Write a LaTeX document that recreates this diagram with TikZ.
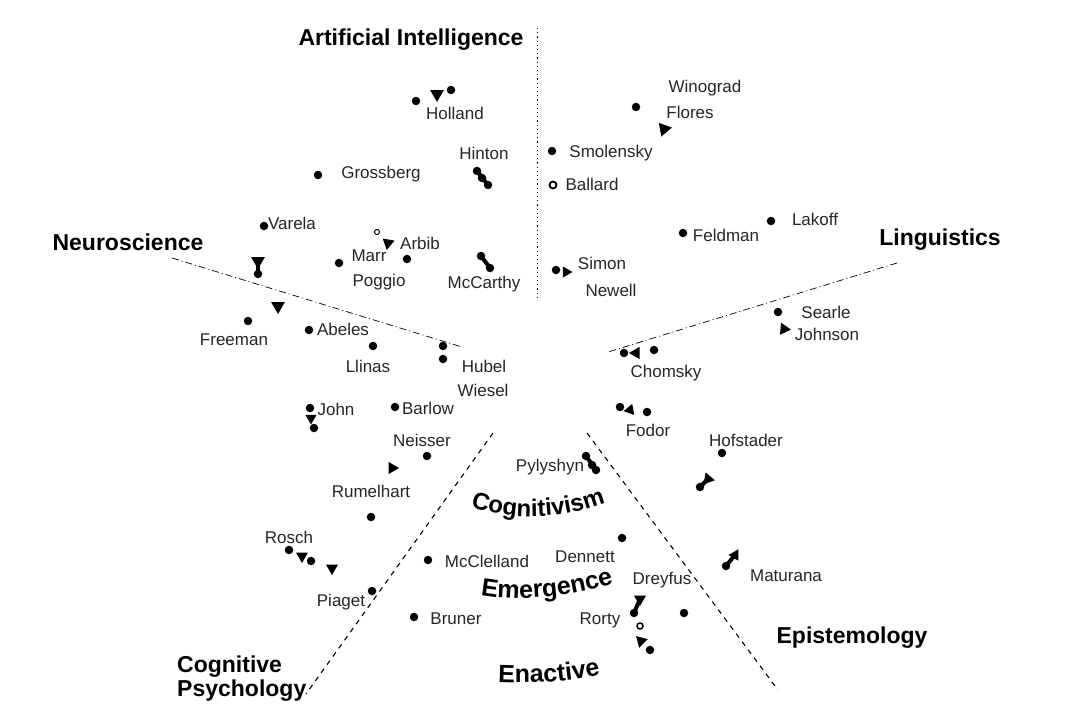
\documentclass[tikz,border=0pt]{standalone}
\usepackage{fontspec}
\setmainfont{Liberation Sans}
\usetikzlibrary{shapes.geometric,decorations.text}

\begin{document}
\begin{tikzpicture}[x=1pt,y=-1pt,
  dot/.style={circle,fill=black,inner sep=0pt,minimum size=8.5pt},
  ring/.style={circle,draw=black,line width=1.8pt,fill=white,inner sep=0pt,minimum size=7pt},
  tri/.style={regular polygon,regular polygon sides=3,fill=black,inner sep=0pt,minimum size=16pt},
  person/.style={font=\fontsize{17}{20}\selectfont,inner sep=0pt,text=black!85},
  field/.style={font=\bfseries\fontsize{23}{26}\selectfont,inner sep=0pt,align=left},
  thinaxis/.style={line width=0.7pt,dash pattern=on 7pt off 3pt on 1pt off 3pt},
  dotaxis/.style={line width=0.8pt,dash pattern=on 1.2pt off 3pt},
  boldaxis/.style={line width=1.1pt,dash pattern=on 5pt off 5pt},
  link/.style={line width=4pt}
]
\useasboundingbox (0,0) rectangle (1083,704);
\fill[white] (0,0) rectangle (1083,704);

% ---- field boundaries ----
\coordinate (aiTop) at (537,28);   \coordinate (aiEnd) at (537,300);
\coordinate (nsStart) at (172,258); \coordinate (nsEnd) at (462,347);
\coordinate (lgStart) at (897,263); \coordinate (lgEnd) at (608,352);
\coordinate (cpStart) at (493,433); \coordinate (cpEnd) at (306,694);
\coordinate (epStart) at (587,433); \coordinate (epEnd) at (778,690);
\draw[dotaxis] (aiTop) -- (aiEnd);
\draw[thinaxis] (nsStart) -- (nsEnd);
\draw[thinaxis] (lgStart) -- (lgEnd);
\draw[boldaxis] (cpStart) -- (cpEnd);
\draw[boldaxis] (epStart) -- (epEnd);

% ---- field titles ----
\node[field] (ai) at (411,40) {Artificial Intelligence};
\node[field] (ns) at (128,242) {Neuroscience};
\node[field] (lg) at (940,240) {Linguistics};
\node[field,anchor=north west] (cp) at (177,656) {Cognitive\\[-2pt]Psychology};
\node[field] (ep) at (852,638) {Epistemology};

% ---- the three paradigms, set along arcs ----
\path[decorate,decoration={text along path,text align=center,
  text={|\bfseries\fontsize{24}{24}\selectfont|Cognitivism}}]
  (456,502) .. controls (505,522) and (565,522) .. (620,497);
\path[decorate,decoration={text along path,text align=center,
  text={|\bfseries\fontsize{25}{25}\selectfont|Emergence}}]
  (464,591) .. controls (505,603) and (565,601) .. (630,578);
\path[decorate,decoration={text along path,text align=center,
  text={|\bfseries\fontsize{25}{25}\selectfont|Enactive}}]
  (478,681) .. controls (520,685) and (574,683) .. (620,670);

% ---- Artificial Intelligence ----
\node[dot] (hol1) at (416,101) {};
\node[tri,rotate=180] (hol2) at (437,94) {};
\node[dot] (hol3) at (451,90) {};
\node[person] (holland) at (455,113) {Holland};
\node[person] (hinton) at (484,153) {Hinton};
\node[dot] (hin1) at (477,171) {};
\node[dot] (hin2) at (482,178) {};
\node[dot] (hin3) at (488,185) {};
\draw[link] (hin1.center) -- (hin3.center);
\node[dot] (gro) at (318,175) {};
\node[person] (grossberg) at (381,174) {Grossberg};
\node[dot] (var) at (264,226) {};
\node[person] (varela) at (292,223) {Varela};
\node[tri,rotate=180] (nx1) at (258,261) {};
\node[dot] (nx2) at (258,274) {};
\draw[link] (nx1.center) -- (nx2.center);
\node[tri,rotate=180] (nx3) at (278,306) {};
\node[dot] (fre) at (248,321) {};
\node[person] (freeman) at (234,340) {Freeman};
\node[ring,minimum size=5pt,line width=1pt] (arb1) at (377,232) {};
\node[tri,rotate=170,minimum size=14pt] (arb2) at (388,243) {};
\node[person] (arbib) at (420,243) {Arbib};
\node[dot] (arb3) at (407,259) {};
\node[dot] (mar) at (339,263) {};
\node[person] (marr) at (369,256) {Marr};
\node[person] (poggio) at (379,282) {Poggio};
\node[dot] (mcc1) at (481,256) {};
\node[dot] (mcc2) at (490,268) {};
\draw[link] (mcc1.center) -- (mcc2.center);
\node[person] (mccarthy) at (484,284) {McCarthy};
\node[dot] (smo) at (552,151) {};
\node[person] (smolensky) at (611,153) {Smolensky};
\node[ring] (bal) at (553,185) {};
\node[person] (ballard) at (592,184) {Ballard};
\node[dot] (win1) at (636,107) {};
\node[tri,rotate=40] (win2) at (664,129) {};
\node[person] (winograd) at (705,88) {Winograd};
\node[person] (flores) at (690,112) {Flores};
\node[dot] (fel) at (683,233) {};
\node[person] (feldman) at (726,235) {Feldman};
\node[dot] (lak) at (771,221) {};
\node[person] (lakoff) at (815,219) {Lakoff};
\node[dot] (sim1) at (556,270) {};
\node[tri,rotate=-90,minimum size=13pt] (sim2) at (566,272) {};
\node[person] (simon) at (602,263) {Simon};
\node[person] (newell) at (611,290) {Newell};

% ---- Linguistics ----
\node[dot] (sea) at (778,312) {};
\node[person] (searle) at (826,312) {Searle};
\node[tri,rotate=-95,minimum size=14pt] (joh) at (784,329) {};
\node[person] (johnson) at (827,334) {Johnson};
\node[dot] (cho1) at (624,353) {};
\node[tri,rotate=90,minimum size=14pt] (cho2) at (636,353) {};
\node[dot] (cho3) at (654,350) {};
\node[person] (chomsky) at (666,373) {Chomsky};
\node[dot] (fod1) at (620,407) {};
\node[tri,rotate=100,minimum size=13pt] (fod2) at (630,410) {};
\node[dot] (fod3) at (647,412) {};
\node[person] (fodor) at (648,430) {Fodor};
\node[person] (hofstader) at (746,440) {Hofstader};
\node[dot] (hof1) at (722,453) {};
\node[tri,rotate=-100,minimum size=14pt] (hof2) at (708,479) {};
\node[dot] (hof3) at (700,487) {};
\draw[link] (hof2.center) -- (hof3.center);

% ---- Neuroscience and Cognitive Psychology ----
\node[dot] (abe) at (309,330) {};
\node[person] (abeles) at (343,329) {Abeles};
\node[dot] (lli) at (373,346) {};
\node[person] (llinas) at (368,366) {Llinas};
\node[dot] (hub1) at (443,346) {};
\node[dot] (hub2) at (443,359) {};
\node[person] (hubel) at (484,366) {Hubel};
\node[person] (wiesel) at (483,390) {Wiesel};
\node[dot] (jo1) at (310,408) {};
\node[tri,rotate=180,minimum size=13pt] (jo2) at (311,418) {};
\node[dot] (jo3) at (314,428) {};
\node[person] (john) at (336,409) {John};
\node[dot] (bar) at (395,407) {};
\node[person] (barlow) at (428,408) {Barlow};
\node[person] (neisser) at (422,440) {Neisser};
\node[dot] (nei) at (427,456) {};
\node[tri,rotate=30,minimum size=14pt] (nx4) at (392,468) {};
\node[person] (rumelhart) at (371,491) {Rumelhart};
\node[dot] (rum) at (371,517) {};
\node[person] (rosch) at (289,537) {Rosch};
\node[dot] (ros1) at (289,550) {};
\node[tri,rotate=60,minimum size=14pt] (ros2) at (302,556) {};
\node[dot] (ros3) at (311,561) {};
\node[tri,rotate=180,minimum size=14pt] (ros4) at (332,568) {};
\node[dot] (pia) at (372,591) {};
\node[person] (piaget) at (341,602) {Piaget};
\node[dot] (mcl) at (428,560) {};
\node[person] (mcclelland) at (487,561) {McClelland};
\node[dot] (bru) at (414,617) {};
\node[person] (bruner) at (456,619) {Bruner};

% ---- centre and Epistemology ----
\node[person] (pylyshyn) at (550,467) {Pylyshyn};
\node[dot] (pyl1) at (586,456) {};
\node[dot] (pyl2) at (592,465) {};
\node[dot] (pyl3) at (596,470) {};
\draw[link] (pyl1.center) -- (pyl3.center);
\node[dot] (den) at (622,538) {};
\node[person] (dennett) at (585,557) {Dennett};
\node[person] (dreyfus) at (662,580) {Dreyfus};
\node[tri,rotate=180,minimum size=14pt] (dre1) at (640,599) {};
\node[dot] (dre2) at (634,613) {};
\draw[link] (dre1.center) -- (dre2.center);
\node[ring,minimum size=6pt,line width=1.5pt] (ror1) at (640,626) {};
\node[person] (rorty) at (600,620) {Rorty};
\node[tri,rotate=45,minimum size=14pt] (ror2) at (641,641) {};
\node[dot] (ror3) at (650,650) {};
\node[dot] (ep1) at (684,613) {};
\node[tri,rotate=-30,minimum size=13pt] (mat1) at (735,555) {};
\node[dot] (mat2) at (726,566) {};
\draw[link] (mat1.center) -- (mat2.center);
\node[person] (maturana) at (786,576) {Maturana};
\end{tikzpicture}
\end{document}
